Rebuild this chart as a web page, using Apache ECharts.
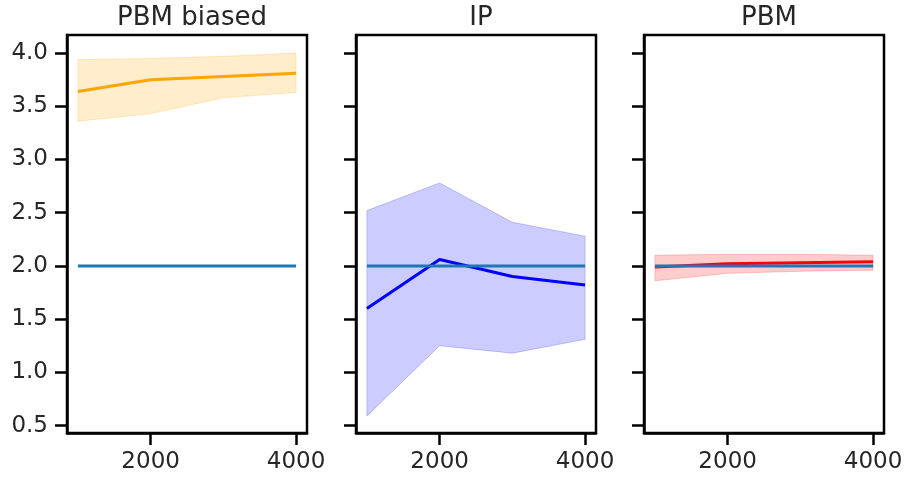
<!DOCTYPE html>
<html>
<head>
<meta charset="utf-8">
<script src="https://cdn.jsdelivr.net/npm/echarts@6/dist/echarts.min.js"></script>
<style>html,body{margin:0;padding:0;background:#fff}#c{width:907px;height:483px}</style>
</head>
<body>
<div id="c"></div>
<script>
const titles = ['PBM biased', 'IP', 'PBM'];
const xs = [1000, 2000, 3000, 4000];
const biasedMean = [3.64, 3.75, 3.78, 3.81];
const biasedLow = [3.36, 3.43, 3.58, 3.63];
const biasedHigh = [3.94, 3.95, 3.97, 4.00];
const ipMean = [1.60, 2.06, 1.90, 1.82];
const ipLow = [0.59, 1.25, 1.18, 1.31];
const ipHigh = [2.52, 2.78, 2.41, 2.28];
const pbmMean = [1.99, 2.02, 2.03, 2.04];
const pbmLow = [1.86, 1.93, 1.95, 1.96];
const pbmHigh = [2.10, 2.11, 2.11, 2.10];
const refValues = [2.0, 2.0, 2.0, 2.0];
const yTicks = [0.5, 1.0, 1.5, 2.0, 2.5, 3.0, 3.5, 4.0];
const xTicks = [2000, 4000];

const panels = [
  {mean: biasedMean, low: biasedLow, high: biasedHigh, line: '#FFA500', band: 'rgba(255,165,0,0.2)'},
  {mean: ipMean, low: ipLow, high: ipHigh, line: '#0000FF', band: 'rgba(0,0,255,0.2)'},
  {mean: pbmMean, low: pbmLow, high: pbmHigh, line: '#FF0000', band: 'rgba(255,0,0,0.2)'}
];
const gridLefts = [67, 356, 644];
const gridWidth = 240;
const FONT = 'DejaVu Sans';
const TXT = '#262626';

const grid = [], xAxis = [], yAxis = [], series = [], title = [];
panels.forEach((p, k) => {
  grid.push({left: gridLefts[k], width: gridWidth, top: 35, bottom: 50,
    show: true, borderColor: '#000', borderWidth: 2.5, backgroundColor: 'transparent'});
  title.push({text: titles[k], left: gridLefts[k] + gridWidth / 2, top: 0, textAlign: 'center',
    textStyle: {fontFamily: FONT, fontSize: 26, fontWeight: 'normal', color: TXT}});
  xAxis.push({type: 'value', gridIndex: k, min: 850, max: 4150,
    axisLine: {show: true, lineStyle: {color: '#000', width: 2.5}},
    axisTick: {show: true, length: 12, lineStyle: {color: '#000', width: 2.5}, customValues: xTicks},
    axisLabel: {show: true, margin: 18, fontFamily: FONT, fontSize: 23, color: TXT,
      customValues: xTicks, formatter: v => String(v)},
    splitLine: {show: false}});
  yAxis.push({type: 'value', gridIndex: k, min: 0.43, max: 4.17,
    axisLine: {show: true, lineStyle: {color: '#000', width: 2.5}},
    axisTick: {show: true, length: 12, lineStyle: {color: '#000', width: 2.5}, customValues: yTicks},
    axisLabel: {show: k === 0, margin: 19, fontFamily: FONT, fontSize: 23, color: TXT,
      customValues: yTicks, formatter: v => v.toFixed(1)},
    splitLine: {show: false}});
  series.push({type: 'custom', xAxisIndex: k, yAxisIndex: k, silent: true, z: 1,
    data: xs.map((x, i) => [x, p.low[i], p.high[i]]),
    renderItem: (params, api) => {
      if (params.dataIndex !== 0) return null;
      const upper = xs.map((x, i) => api.coord([x, p.high[i]]));
      const lower = xs.map((x, i) => api.coord([x, p.low[i]])).reverse();
      return {type: 'polygon', shape: {points: upper.concat(lower)},
        style: {fill: p.band, stroke: p.band, lineWidth: 1}};
    }});
  series.push({type: 'line', xAxisIndex: k, yAxisIndex: k, symbol: 'none', silent: true,
    data: xs.map((x, i) => [x, p.mean[i]]), lineStyle: {color: p.line, width: 3}, z: 2});
  series.push({type: 'line', xAxisIndex: k, yAxisIndex: k, symbol: 'none', silent: true,
    data: xs.map((x, i) => [x, refValues[i]]), lineStyle: {color: '#1f77b4', width: 3}, z: 3});
});

const chart = echarts.init(document.getElementById('c'), null, {renderer: 'canvas'});
chart.setOption({animation: false, backgroundColor: '#fff', title, grid, xAxis, yAxis, series});
</script>
</body>
</html>
